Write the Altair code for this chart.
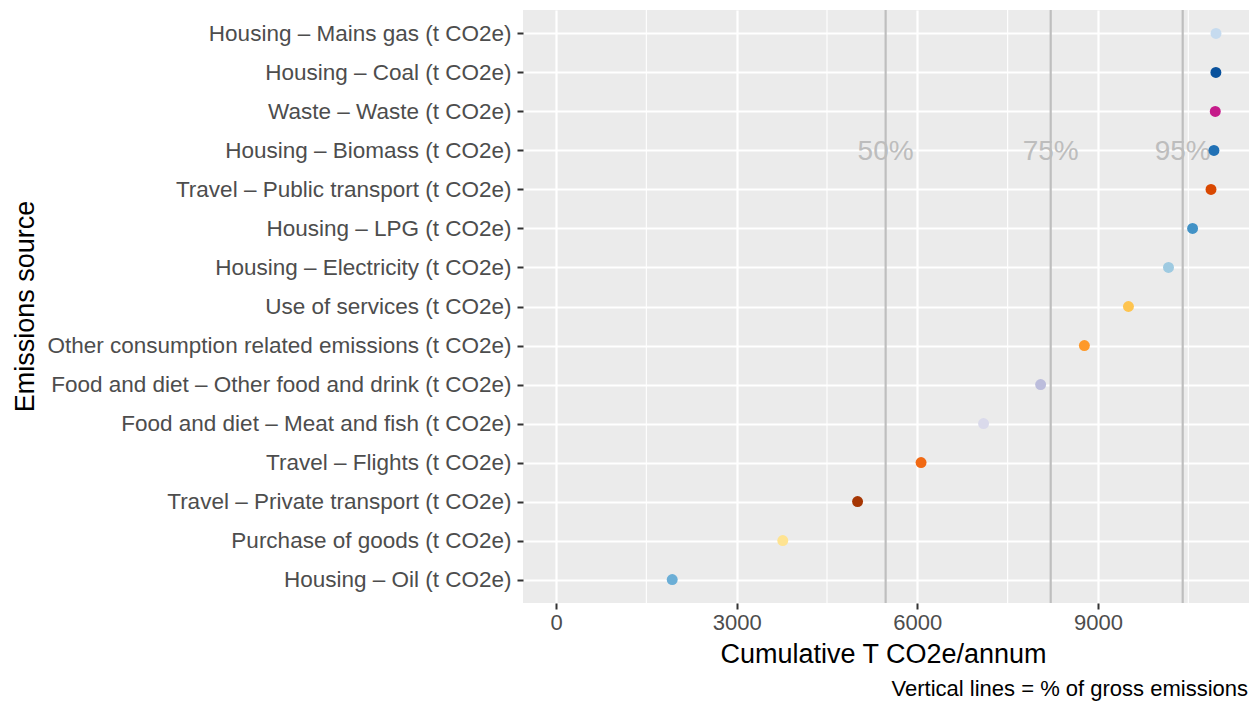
import altair as alt
import pandas as pd

categories = [
    "Housing – Mains gas (t CO2e)",
    "Housing – Coal (t CO2e)",
    "Waste – Waste (t CO2e)",
    "Housing – Biomass (t CO2e)",
    "Travel – Public transport (t CO2e)",
    "Housing – LPG (t CO2e)",
    "Housing – Electricity (t CO2e)",
    "Use of services (t CO2e)",
    "Other consumption related emissions (t CO2e)",
    "Food and diet – Other food and drink (t CO2e)",
    "Food and diet – Meat and fish (t CO2e)",
    "Travel – Flights (t CO2e)",
    "Travel – Private transport (t CO2e)",
    "Purchase of goods (t CO2e)",
    "Housing – Oil (t CO2e)",
]
cumulative = [10960, 10958, 10948, 10926, 10877, 10571, 10171, 9506, 8774,
              8048, 7100, 6062, 5008, 3766, 1930]
colors = ["#c6dbef", "#08519c", "#c51b8a", "#2171b5", "#d94801", "#4292c6",
          "#9ecae1", "#fec44f", "#fe9929", "#bcbddc", "#dadaeb", "#f16913",
          "#a63603", "#fee391", "#6baed6"]

pct_labels = ["50%", "75%", "95%"]
pct_values = [5474, 8215, 10407]
label_row = "Housing – Biomass (t CO2e)"

major_breaks = [0, 3000, 6000, 9000]
minor_breaks = [1500, 4500, 7500, 10500]

caption_text = "Vertical lines = % of gross emissions"

FONT = "Liberation Sans"
W, H = 726, 593

df = pd.DataFrame({"source": categories, "value": cumulative})
pct_df = pd.DataFrame({"label": pct_labels, "value": pct_values,
                       "row": [label_row] * len(pct_labels)})
minor_df = pd.DataFrame({"value": minor_breaks})

xscale = alt.Scale(domain=[-548, 11508], nice=False, zero=False)
yscale = alt.Scale(type="point", domain=categories, padding=0.6)

x_axis = alt.Axis(
    values=major_breaks, title="Cumulative T CO2e/annum", grid=True,
    gridColor="white", gridWidth=2.2, domain=False, tickColor="#333333",
    tickSize=6, tickWidth=2, labelFontSize=22, labelColor="#4d4d4d",
    labelFont=FONT, labelPadding=3, titleFont=FONT, titleFontSize=27,
    titleFontWeight="normal", titleColor="black", titleX=360, titleY=59,
    titleBaseline="alphabetic", titleAlign="center", format="d",
)
y_axis = alt.Axis(
    title="Emissions source", grid=True, gridColor="white", gridWidth=2.2,
    domain=False, tickColor="#333333", tickSize=6, tickWidth=2,
    labelFontSize=22.5, labelColor="#4d4d4d", labelFont=FONT, labelPadding=6,
    labelLimit=800, titleFont=FONT, titleFontSize=27,
    titleFontWeight="normal", titleColor="black", titleX=-498, titleY=296,
    titleAngle=270, titleBaseline="middle", titleAlign="center",
)

minor = alt.Chart(minor_df).mark_rule(color="white", strokeWidth=1.1).encode(
    x=alt.X("value:Q", scale=xscale, axis=x_axis)
)

vlines = alt.Chart(pct_df).mark_rule(color="#bebebe", strokeWidth=2.2).encode(
    x=alt.X("value:Q", scale=xscale)
)

vtext = alt.Chart(pct_df).mark_text(
    font=FONT, fontSize=28, color="#bdbdbd", align="center", baseline="middle",
    dy=2,
).encode(
    x=alt.X("value:Q", scale=xscale),
    y=alt.Y("row:N", scale=yscale, axis=y_axis),
    text="label:N",
)

points = alt.Chart(df).mark_point(filled=True, size=120, opacity=1).encode(
    x=alt.X("value:Q", scale=xscale),
    y=alt.Y("source:N", scale=yscale, axis=y_axis),
    color=alt.Color("source:N", scale=alt.Scale(domain=categories, range=colors),
                    legend=None),
)

caption = alt.Chart(pd.DataFrame({"t": [caption_text]})).mark_text(
    font=FONT, fontSize=22, color="black", align="right", baseline="alphabetic"
).encode(
    x=alt.value(W - 1), y=alt.value(686), text="t:N"
)

chart = alt.layer(minor, vlines, vtext, points, caption).properties(
    width=W, height=H,
    autosize=alt.AutoSizeParams(type="none"),
    padding={"left": 515, "top": 2, "right": 3, "bottom": 100},
).configure(
    background="white",
    view=alt.ViewConfig(fill="#ebebeb", stroke=None),
)

chart.save("out.html", embed_options={"renderer": "svg", "actions": False})
